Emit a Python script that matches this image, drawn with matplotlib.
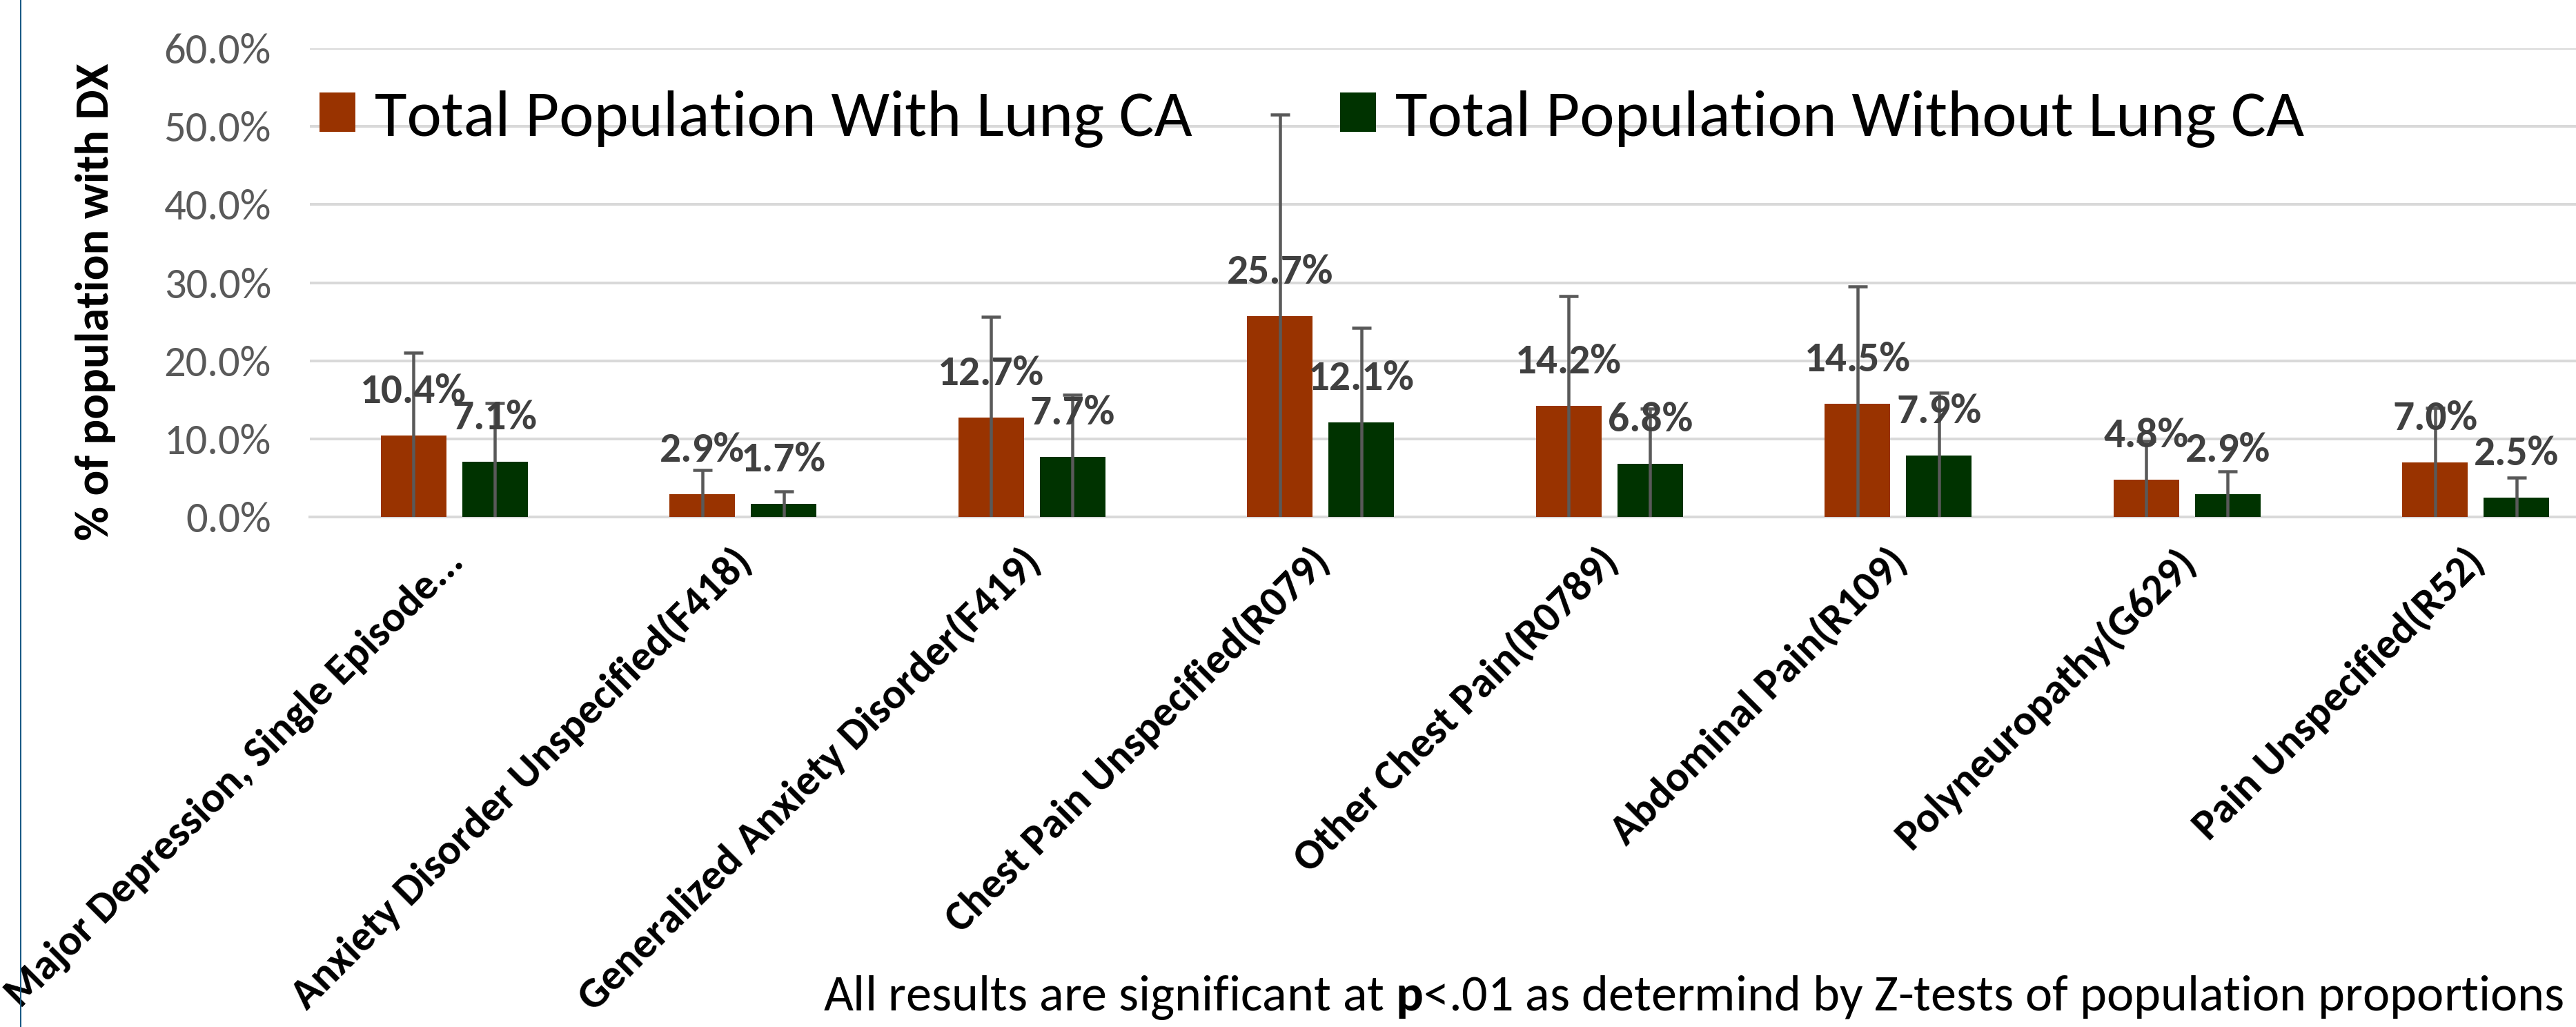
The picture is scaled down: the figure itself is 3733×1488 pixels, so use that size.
import matplotlib
matplotlib.use("Agg")
import matplotlib.pyplot as plt
from matplotlib import font_manager as fm
from matplotlib.patches import Patch
from matplotlib.lines import Line2D
import numpy as np

# ---------------- data ----------------
categories = [
    "Major Depression, Single Episode...",
    "Anxiety Disorder Unspecified(F418)",
    "Generalized Anxiety Disorder(F419)",
    "Chest Pain Unspecified(R079)",
    "Other Chest Pain(R0789)",
    "Abdominal Pain(R109)",
    "Polyneuropathy(G629)",
    "Pain Unspecified(R52)",
]
with_lung = [10.4, 2.9, 12.7, 25.7, 14.2, 14.5, 4.8, 7.0]
without_lung = [7.1, 1.7, 7.7, 12.1, 6.8, 7.9, 2.9, 2.5]
err_with = [10.6, 3.1, 12.9, 25.8, 14.1, 15.0, 4.9, 7.0]
err_without = [7.5, 1.6, 7.9, 12.1, 7.1, 8.0, 2.9, 2.5]
series_names = ["Total Population With Lung CA", "Total Population Without Lung CA"]
y_ticks = [0, 10, 20, 30, 40, 50, 60]
y_label = "% of population with DX"

# ---------------- fonts ----------------
avail = {f.name for f in fm.fontManager.ttflist}
def pick(*names):
    for n in names:
        if n in avail:
            return n
    return "DejaVu Sans"
FONT = pick("Carlito", "Calibri", "Lato", "Open Sans", "Noto Sans")
plt.rcParams["font.family"] = [FONT, "DejaVu Sans"]
plt.rcParams["mathtext.fontset"] = "custom"
plt.rcParams["mathtext.rm"] = FONT
plt.rcParams["mathtext.bf"] = FONT + ":bold"

W, H, DPI = 3733, 1488, 100
PT = 72.0 / DPI  # points per pixel

fig = plt.figure(figsize=(W / DPI, H / DPI), dpi=DPI)
renderer = fig.canvas.get_renderer()

def fit_size(s, target_px, weight="normal", base=40.0):
    t = fig.text(0, 0, s, fontsize=base, fontweight=weight)
    w = t.get_window_extent(renderer).width
    t.remove()
    return base * target_px / w

note = r"All results are significant at $\mathbf{p}$<.01 as determind by Z-tests of population proportions"

tick_size = fit_size("60.0%", 155)
dlab_size = fit_size("12.7%", 154, "bold")
ylab_size = fit_size(y_label, 691, "bold")
xlab_size = fit_size(categories[0], 910, "bold")
leg_size = fit_size(series_names[0], 1183)
note_size = fit_size(note, 2519)

# ---------------- axes ----------------
ax_left, ax_right = 449, 449 + 3348
ax_top, ax_bot = 70, 749
ax = fig.add_axes([ax_left / W, (H - ax_bot) / H, (ax_right - ax_left) / W, (ax_bot - ax_top) / H])

x = np.arange(len(categories))
bw = 0.227
off = 0.141
c_with = "#993300"
c_without = "#003300"

ax.bar(x - off, with_lung, bw, color=c_with, zorder=2)
ax.bar(x + off, without_lung, bw, color=c_without, zorder=2)

for xs, vals, errs in ((x - off, with_lung, err_with), (x + off, without_lung, err_without)):
    eb = ax.errorbar(xs, vals, yerr=[vals, errs], fmt="none", ecolor="#595959",
                     elinewidth=4.5 * PT, capsize=14 * PT, capthick=4.5 * PT, zorder=3)
    eb.lines[1][0].set_visible(False)

for xs, vals in ((x - off, with_lung), (x + off, without_lung)):
    for xi, v in zip(xs, vals):
        ax.annotate(f"{v:.1f}%", xy=(xi, v), xytext=(0, 47 * PT), textcoords="offset points",
                    ha="center", va="baseline", fontsize=dlab_size, fontweight="bold",
                    color="#404040", zorder=4)

ax.set_xlim(-0.5, len(categories) - 0.5)
ax.set_ylim(0, 60)
ax.set_yticks(y_ticks)
ax.set_yticklabels([f"{v:.1f}%" for v in y_ticks], fontsize=tick_size, color="#595959")
ax.tick_params(axis="y", length=0, pad=56 * PT)
ax.set_xticks(x)
ax.set_xticklabels([])
ax.tick_params(axis="x", length=0)
ax.grid(axis="y", color="#d9d9d9", linewidth=4 * PT, zorder=0)
ax.set_axisbelow(True)
for s in ["left", "right", "top"]:
    ax.spines[s].set_visible(False)
ax.spines["bottom"].set_color("#d9d9d9")
ax.spines["bottom"].set_linewidth(4 * PT)
ax.spines["bottom"].set_zorder(1)

for i, lab in enumerate(categories):
    ax.annotate(lab, xy=(i, 0), xytext=(16 * PT, -68 * PT), textcoords="offset points",
                rotation=45, rotation_mode="anchor", ha="right", va="baseline",
                fontsize=xlab_size, fontweight="bold", color="black", annotation_clip=False)

# y label
fig.text(139 / W, 1 - 437 / H, y_label, rotation=90, ha="center", va="center",
         fontsize=ylab_size, fontweight="bold", color="black")

# legend
handles = [Patch(facecolor=c_with), Patch(facecolor=c_without)]
lpx = leg_size / PT
leg = fig.legend(handles, series_names, loc="center left",
                 bbox_to_anchor=(463 / W, 1 - 172 / H), bbox_transform=fig.transFigure,
                 ncol=2, frameon=False, fontsize=leg_size, borderpad=0, borderaxespad=0,
                 handlelength=52 / lpx, handleheight=52 / lpx, handletextpad=28 / lpx,
                 columnspacing=214 / lpx)
for t in leg.get_texts():
    t.set_color("black")

# footnote
fig.text(1193 / W, 1 - 1464 / H, note, ha="left", va="baseline", fontsize=note_size, color="black")

# left blue border
fig.add_artist(Line2D([30 / W, 30 / W], [0, 1], color="#1a5a85", linewidth=2 * PT))

fig.savefig("out.png", dpi=DPI)
